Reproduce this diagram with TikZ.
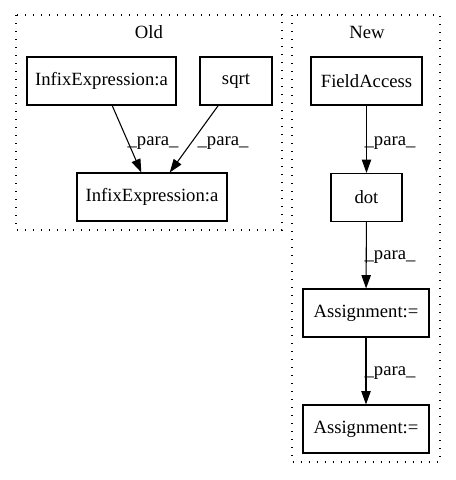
\documentclass[tikz,border=0pt]{standalone}
\usepackage{fontspec}
\setmainfont{Liberation Serif}
\usetikzlibrary{arrows.meta}
\begin{document}
\begin{tikzpicture}[x=0.75pt,y=-0.75pt,
  every node/.style={font=\fontsize{14}{16}\selectfont},
  box/.style={draw,line width=0.8pt,rectangle,minimum height=36pt,inner sep=0pt},
  cluster/.style={draw,line width=0.8pt,dash pattern=on 1pt off 5pt},
  edge/.style={line width=0.8pt,-{Triangle[length=10pt,width=7pt]}},
  lbl/.style={inner sep=0pt}]
\useasboundingbox (0,0) rectangle (456,480);
% clusters
\draw[cluster] (16,15) rectangle (282,230);
\draw[cluster] (292,15) rectangle (440,462);
\node (oldlbl) at (149,32) {Old};
\node (newlbl) at (367,32) {New};
% nodes
\node[box,minimum width=111.75pt] (inf1) at (101.5,81) {InfixExpression:a};
\node[box,minimum width=54pt] (sqrt) at (236,81) {sqrt};
\node[box,minimum width=112.5pt] (inf2) at (152,197) {InfixExpression:a};
\node[box,minimum width=83.25pt] (fa) at (366.5,81) {FieldAccess};
\node[box,minimum width=53.25pt] (dot) at (366.5,197.5) {dot};
\node[box,minimum width=94.5pt] (as1) at (366,313) {Assignment:=};
\node[box,minimum width=94.5pt] (as2) at (366,429) {Assignment:=};
% edges
\draw[edge] (inf1) -- (inf2);
\draw[edge] (sqrt) -- (inf2);
\draw[edge] (fa) -- (dot);
\draw[edge] (dot) -- (as1);
\draw[edge] (as1) -- (as2);
% labels
\node[lbl] (l1) at (153,143) {\_para\_};
\node[lbl] (l2) at (223,143) {\_para\_};
\node[lbl] (l3) at (390,143) {\_para\_};
\node[lbl] (l4) at (390,257) {\_para\_};
\node[lbl] (l5) at (390,373) {\_para\_};
\end{tikzpicture}
\end{document}
